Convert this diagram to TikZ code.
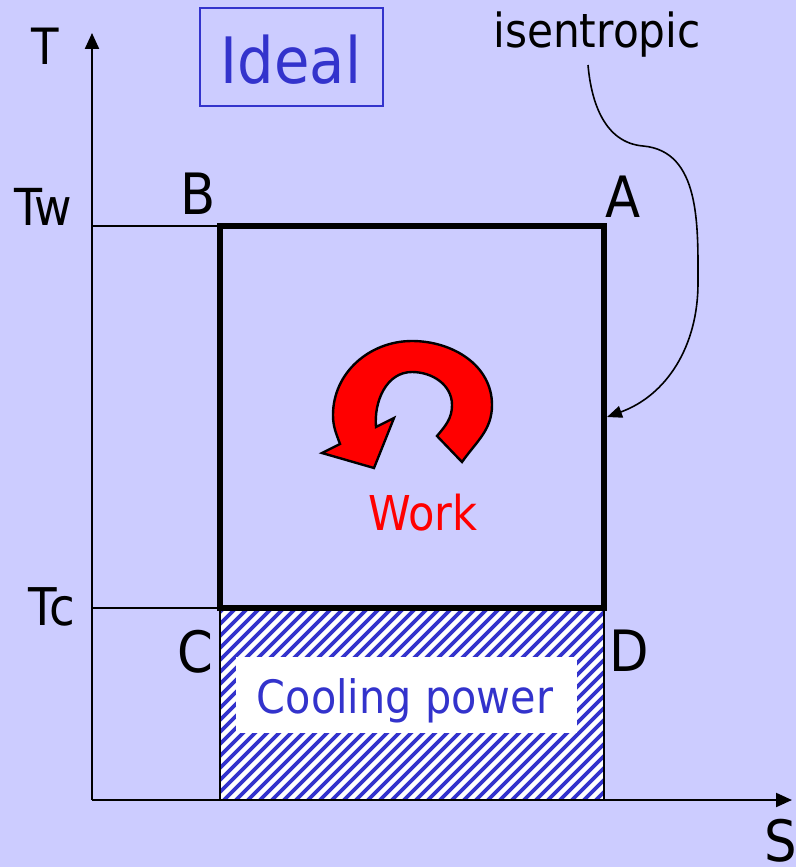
\documentclass[tikz,border=0pt]{standalone}
\usepackage{fontspec}
\setmainfont[FakeStretch=0.9]{DejaVu Sans}
\usetikzlibrary{arrows.meta}
\definecolor{bg}{RGB}{204,204,255}
\definecolor{tblue}{RGB}{51,51,204}
\newcommand{\fs}[1]{\fontsize{#1}{#1}\selectfont}
\begin{document}
\begin{tikzpicture}[x=1pt,y=1pt,
  lbl/.style={inner sep=0pt, anchor=base},
  axis/.style={line width=2.2pt, -{Triangle[length=16pt,width=14pt]}},
  thinline/.style={line width=1.8pt}]
\useasboundingbox (0,0) rectangle (796,-867);
\fill[bg] (0,0) rectangle (796,-867);
% coordinates
\coordinate (O) at (92,-800);
\coordinate (ytop) at (92,-33);
\coordinate (xend) at (792,-800);
\coordinate (B) at (220,-226);
\coordinate (A) at (604,-226);
\coordinate (C) at (220,-608);
\coordinate (D) at (604,-608);
\coordinate (Cb) at (220,-800);
\coordinate (Db) at (604,-800);
\coordinate (Tw) at (92,-226);
\coordinate (Tc) at (92,-608);
% hatched area
\begin{scope}
\clip (C) rectangle (Db);
\fill[white] (C) rectangle (Db);
\foreach \i in {0,...,52} \draw[tblue, line width=3.8pt] (10+\i*12,-810) -- ++(220,220);
\end{scope}
\draw[line width=2pt] (C) -- (Cb) (D) -- (Db);
\node[fill=white, minimum width=341pt, minimum height=76pt, inner sep=0pt] (cpbox) at (406,-695) {};
\node[lbl, text=tblue, font=\fs{46}] (cp) at (405,-713) {Cooling power};
% axes
\draw[axis] (O) -- (ytop);
\draw[axis] (O) -- (xend);
\draw[thinline] (Tw) -- (B);
\draw[thinline] (Tc) -- (C);
% cycle rectangle
\draw[line width=5.5pt] (B) rectangle (D);
% ideal box
\node[draw=tblue, line width=2pt, minimum width=183pt, minimum height=98pt, inner sep=0pt] (idealbox) at (291.5,-57) {};
\node[lbl, text=tblue, font=\fs{64}] (ideal) at (291,-83) {Ideal};
% labels
\node[lbl, font=\fs{50}] (lT) at (45,-65) {T};
\node[lbl, font=\fs{51}] (lTw) at (43,-225) {Tw};
\node[lbl, font=\fs{52}] (lTc) at (52,-625) {Tc};
\node[lbl, font=\fs{57}] (lB) at (198,-214) {B};
\node[lbl, font=\fs{57}] (lA) at (623,-217) {A};
\node[lbl, font=\fs{57}] (lC) at (195,-672) {C};
\node[lbl, font=\fs{57}] (lD) at (629,-671) {D};
\node[lbl, font=\fs{57}] (lS) at (781,-861) {S};
\node[lbl, text=red, font=\fs{48}] (work) at (423,-530) {Work};
\node[lbl, font=\fs{47}] (isen) at (597,-48) {isentropic};
% isentropic arrow
\coordinate (isstart) at (588,-65);
\coordinate (isend) at (607,-417);
\draw[line width=1.6pt, -{Triangle[length=15pt,width=12pt]}] (isstart) to[out=-85,in=175] (643,-146) to[out=-5,in=90] (698,-283) to[out=-90,in=20] (isend);
% work arrow
\draw[fill=red, line width=2.4pt, line join=miter] (462,-462) to[out=55,in=-90] (492,-405) to[out=90,in=0] (412,-341) to[out=180,in=90] (333,-415) to[out=-90,in=110] (340,-444) -- (322,-453) -- (374,-468) -- (394,-418) -- (376,-427) to[out=95,in=180] (412,-372) to[out=0,in=90] (452,-405) to[out=-90,in=50] (437,-436) -- cycle;
\end{tikzpicture}
\end{document}
